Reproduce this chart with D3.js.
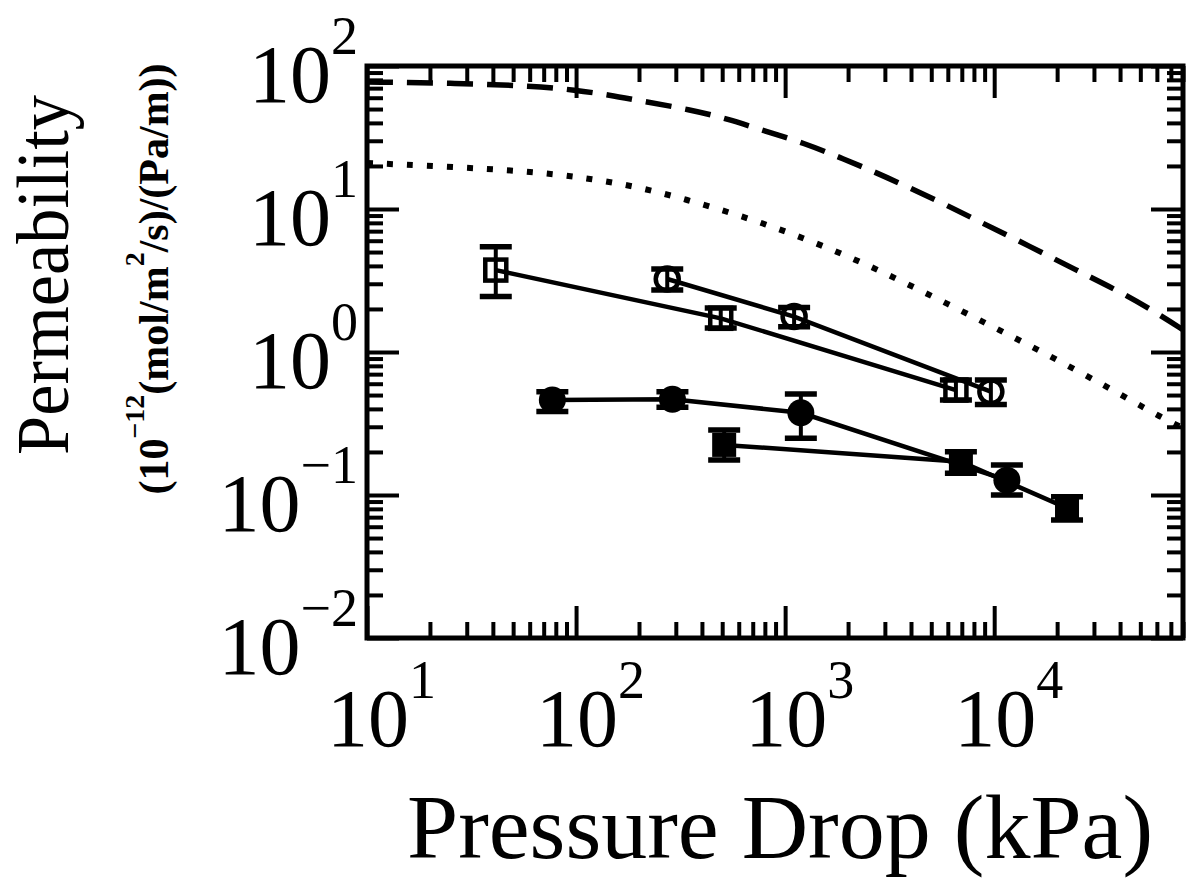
<!DOCTYPE html>
<html>
<head>
<meta charset="utf-8">
<script src="https://cdn.jsdelivr.net/npm/d3@7/dist/d3.min.js"></script>
<style>
  html, body { margin: 0; padding: 0; background: #fff; }
  svg { display: block; }
  text { font-family: "Liberation Serif", "Times New Roman", serif; fill: #000; }
</style>
</head>
<body>
<svg id="chart" width="1190" height="878"></svg>
<script>
// ---------- data ----------
const xTickValues = [10, 100, 1000, 10000];
const xTickExps = ["1", "2", "3", "4"];
const yTickValues = [0.01, 0.1, 1, 10, 100];
const yTickExps = ["\u22122", "\u22121", "0", "1", "2"];

// open squares
const osX = [41.3, 492, 6560];
const osY = [3.74, 1.72, 0.542];
const osLo = [2.44, 1.47, 0.461];
const osHi = [5.45, 2.03, 0.637];
// open circles
const ocX = [273, 1104, 9640];
const ocY = [3.24, 1.77, 0.528];
const ocLo = [2.71, 1.50, 0.43];
const ocHi = [3.80, 2.05, 0.637];
// filled circles
const fcX = [77, 289, 1189, 11500];
const fcY = [0.462, 0.467, 0.376, 0.127];
const fcLo = [0.383, 0.41, 0.249, 0.100];
const fcHi = [0.528, 0.528, 0.508, 0.162];
// filled squares
const fsX = [511, 6930, 22300];
const fsY = [0.224, 0.171, 0.081];
const fsLo = [0.176, 0.142, 0.0669];
const fsHi = [0.285, 0.201, 0.0973];

// dashed model curve
const dashX = [10, 24.9, 63.7, 98.9, 145, 205, 351, 533, 802, 1233, 1833, 2723, 3961, 5954, 8763, 13030, 19590, 28500, 42400, 61500, 80000];
const dashY = [77.3, 76.0, 72.4, 67.9, 62.7, 56.9, 49.6, 42.6, 35.1, 28.9, 22.9, 18.0, 14.0, 10.6, 7.98, 6.02, 4.44, 3.37, 2.52, 1.83, 1.43];
// dotted model curve
const dotX = [10, 23.6, 55.7, 106, 200, 379, 711, 1300, 2390, 4240, 7670, 13600, 24400, 43300, 63000, 80000];
const dotY = [21, 19.8, 18.5, 16.7, 14.3, 11.1, 8.37, 6.07, 4.17, 2.79, 1.81, 1.18, 0.757, 0.474, 0.349, 0.294];

// ---------- layout ----------
const L = 367, R = 1183, T = 66, B = 638;
const svg = d3.select("#chart");
const x = d3.scaleLog().domain([10, 80000]).range([L, R]);
const y = d3.scaleLog().domain([0.01, 100]).range([B, T]);

function minors(lo, hi) {
  const out = [];
  for (let e = Math.floor(Math.log10(lo)); e <= Math.ceil(Math.log10(hi)); e++) {
    for (let m = 2; m <= 9; m++) {
      const v = m * Math.pow(10, e);
      if (v >= lo * 0.999 && v <= hi * 1.001) out.push(v);
    }
  }
  return out;
}
const xMinor = minors(10, 80000);
const yMinor = minors(0.01, 100);

const MAJ = 32, MIN = 16;
function styleAxis(g) {
  g.select(".domain").remove();
  g.selectAll(".tick line").attr("stroke", "#000").attr("stroke-width", 4);
  g.selectAll(".tick text").remove();
}
const axes = svg.append("g");
axes.append("g").attr("transform", `translate(0,${B})`).call(d3.axisBottom(x).tickValues(xTickValues).tickSize(-MAJ).tickFormat("")).call(styleAxis);
axes.append("g").attr("transform", `translate(0,${B})`).call(d3.axisBottom(x).tickValues(xMinor).tickSize(-MIN).tickFormat("")).call(styleAxis);
axes.append("g").attr("transform", `translate(0,${T})`).call(d3.axisTop(x).tickValues(xTickValues).tickSize(-MAJ).tickFormat("")).call(styleAxis);
axes.append("g").attr("transform", `translate(0,${T})`).call(d3.axisTop(x).tickValues(xMinor).tickSize(-MIN).tickFormat("")).call(styleAxis);
axes.append("g").attr("transform", `translate(${L},0)`).call(d3.axisLeft(y).tickValues(yTickValues).tickSize(-MAJ).tickFormat("")).call(styleAxis);
axes.append("g").attr("transform", `translate(${L},0)`).call(d3.axisLeft(y).tickValues(yMinor).tickSize(-MIN).tickFormat("")).call(styleAxis);
axes.append("g").attr("transform", `translate(${R},0)`).call(d3.axisRight(y).tickValues(yTickValues).tickSize(-MAJ).tickFormat("")).call(styleAxis);
axes.append("g").attr("transform", `translate(${R},0)`).call(d3.axisRight(y).tickValues(yMinor).tickSize(-MIN).tickFormat("")).call(styleAxis);

// clip
svg.append("clipPath").attr("id", "clip").append("rect")
  .attr("x", L).attr("y", T).attr("width", R - L).attr("height", B - T);

const plot = svg.append("g").attr("clip-path", "url(#clip)");
const line = d3.line().x(d => x(d[0])).y(d => y(d[1])).curve(d3.curveBasis);

plot.append("path").datum(d3.zip(dashX, dashY)).attr("d", line)
  .attr("fill", "none").attr("stroke", "#000").attr("stroke-width", 5.5)
  .attr("stroke-dasharray", "26,14");
plot.append("path").datum(d3.zip(dotX, dotY)).attr("d", line)
  .attr("fill", "none").attr("stroke", "#000").attr("stroke-width", 6)
  .attr("stroke-dasharray", "6,14");

const straight = d3.line().x(d => x(d[0])).y(d => y(d[1]));
const series = [
  { xs: osX, ys: osY, lo: osLo, hi: osHi, shape: "square", filled: false },
  { xs: ocX, ys: ocY, lo: ocLo, hi: ocHi, shape: "circle", filled: false },
  { xs: fcX, ys: fcY, lo: fcLo, hi: fcHi, shape: "circle", filled: true },
  { xs: fsX, ys: fsY, lo: fsLo, hi: fsHi, shape: "square", filled: true }
];
const CAP = 16;
series.forEach(s => {
  const g = svg.append("g");
  g.append("path").datum(d3.zip(s.xs, s.ys)).attr("d", straight)
    .attr("fill", "none").attr("stroke", "#000").attr("stroke-width", 4.5);
  s.xs.forEach((xv, i) => {
    const cx = x(xv), cy = y(s.ys[i]), yl = y(s.lo[i]), yh = y(s.hi[i]);
    g.append("line").attr("x1", cx).attr("x2", cx).attr("y1", yl).attr("y2", yh)
      .attr("stroke", "#000").attr("stroke-width", 4);
    [yl, yh].forEach(yy => g.append("line").attr("x1", cx - CAP).attr("x2", cx + CAP)
      .attr("y1", yy).attr("y2", yy).attr("stroke", "#000").attr("stroke-width", 5.5));
    if (s.shape === "circle") {
      if (s.filled) g.append("circle").attr("cx", cx).attr("cy", cy).attr("r", 13.5).attr("fill", "#000");
      else g.append("circle").attr("cx", cx).attr("cy", cy).attr("r", 11.5).attr("fill", "none").attr("stroke", "#000").attr("stroke-width", 4.5);
    } else {
      if (s.filled) g.append("rect").attr("x", cx - 12).attr("y", cy - 12).attr("width", 24).attr("height", 24).attr("fill", "#000");
      else g.append("rect").attr("x", cx - 10.5).attr("y", cy - 10.5).attr("width", 21).attr("height", 21).attr("fill", "none").attr("stroke", "#000").attr("stroke-width", 4.5);
    }
  });
});

// frame
svg.append("rect").attr("x", L).attr("y", T).attr("width", R - L).attr("height", B - T)
  .attr("fill", "none").attr("stroke", "#000").attr("stroke-width", 5);

// tick labels
const FS = 82, SFS = 54;
xTickValues.forEach((v, i) => {
  const t = svg.append("text").attr("x", x(v) - 40).attr("y", 746).attr("font-size", FS);
  t.append("tspan").text("10");
  t.append("tspan").attr("dy", -48).attr("font-size", SFS).text(xTickExps[i]);
});
yTickValues.forEach((v, i) => {
  const t = svg.append("text").attr("x", 358).attr("y", y(v) + 36).attr("font-size", FS).attr("text-anchor", "end");
  t.append("tspan").text("10");
  t.append("tspan").attr("dy", -48).attr("font-size", SFS).text(yTickExps[i]);
});

// axis titles
svg.append("text").attr("x", 780).attr("y", 858).attr("font-size", 92).attr("text-anchor", "middle")
  .text("Pressure Drop (kPa)");
svg.append("text").attr("transform", "translate(68,275) rotate(-90)").attr("font-size", 74)
  .attr("text-anchor", "middle").attr("textLength", 360).attr("lengthAdjust", "spacingAndGlyphs").text("Permeability");
const sub = svg.append("text").attr("transform", "translate(168,279) rotate(-90)").attr("font-size", 42)
  .attr("font-weight", "bold").attr("text-anchor", "middle");
sub.append("tspan").text("(10");
sub.append("tspan").attr("dy", -24).attr("font-size", 28).text("\u221212");
sub.append("tspan").attr("dy", 24).text("(mol/m");
sub.append("tspan").attr("dy", -24).attr("font-size", 28).text("2");
sub.append("tspan").attr("dy", 24).text("/s)/(Pa/m))");
</script>
</body>
</html>
